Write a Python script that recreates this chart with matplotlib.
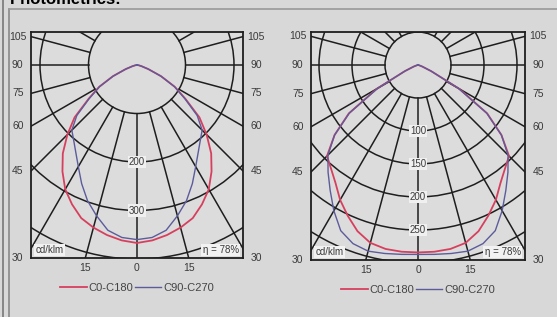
import numpy as np
import matplotlib.pyplot as plt
from matplotlib.patches import Circle
from matplotlib.lines import Line2D

plt.rcParams['font.family'] = ['Liberation Sans', 'DejaVu Sans']

# gamma angle from nadir (deg) and luminous intensity in cd/klm
gamma = np.arange(0, 95, 5)

left_c0 = [367, 363, 356, 347, 336, 317, 296, 268, 238, 203, 168, 122, 90, 55, 25, 10, 4, 1, 0]
left_c90 = [360, 357, 346, 322, 298, 270, 242, 220, 203, 190, 162, 120, 89, 54, 25, 10, 4, 1, 0]
right_c0 = [284, 284, 283, 279, 268, 252, 236, 218, 205, 195, 165, 128, 72, 22, 7, 2, 1, 0, 0]
right_c90 = [287, 288, 290, 292, 288, 277, 255, 232, 212, 193, 165, 127, 71, 22, 7, 2, 1, 0, 0]

left_rings = [100, 200, 300, 400]
left_ring_labels = [200, 300]
right_rings = [50, 100, 150, 200, 250, 300]
right_ring_labels = [100, 150, 200, 250]

side_angles = [105, 90, 75, 60, 45, 30]
bottom_angles = [-15, 0, 15]
series_names = ['C0-C180', 'C90-C270']
eta_text = '\u03b7 = 78%'
unit_text = 'cd/klm'

W, H = 557, 317
BG = '#d8d8d8'
GRID = '#1e1e1e'
RED = '#d6405e'
BLUE = '#5c5c9c'
TXT = '#3a3a3a'

fig = plt.figure(figsize=(W / 100, H / 100), dpi=100, facecolor=BG)


def polar_xy(vals):
    g = np.radians(gamma)
    v = np.asarray(vals, float)
    x = np.concatenate([-(v * np.sin(g))[::-1], v * np.sin(g)])
    y = np.concatenate([-(v * np.cos(g))[::-1], -v * np.cos(g)])
    return x, y


def make_panel(box, center, scale, c0, c90, rings, ring_labels):
    x0, y0, x1, y1 = box
    cx, cy = center
    ax = fig.add_axes([x0 / W, 1 - y1 / H, (x1 - x0) / W, (y1 - y0) / H])
    ax.set_facecolor('#dcdcdc')
    xlim = ((x0 - cx) / scale, (x1 - cx) / scale)
    ylim = (-(y1 - cy) / scale, (cy - y0) / scale)
    ax.set_xlim(xlim)
    ax.set_ylim(ylim)
    ax.set_xticks([])
    ax.set_yticks([])
    for s in ax.spines.values():
        s.set_color(GRID)
        s.set_linewidth(1.3)

    r0 = rings[0]
    for a in range(0, 360, 15):
        dx, dy = np.sin(np.radians(a)), -np.cos(np.radians(a))
        ax.plot([r0 * dx, 3000 * dx], [r0 * dy, 3000 * dy], color=GRID, lw=1.1, zorder=1)
    for r in rings:
        ax.add_patch(Circle((0, 0), r, fill=False, ec=GRID, lw=1.1, zorder=1))

    for r in ring_labels:
        ax.text(0, -r, str(r), ha='center', va='center', fontsize=7, color=TXT, zorder=4,
                bbox=dict(boxstyle='square,pad=0.12', fc='#f0f0f0', ec='none'))

    x, y = polar_xy(c0)
    l1, = ax.plot(x, y, color=RED, lw=1.3, zorder=3)
    x, y = polar_xy(c90)
    l2, = ax.plot(x, y, color=BLUE, lw=1.0, zorder=3)

    xmax = xlim[1]
    for a in side_angles:
        ar = np.radians(a)
        yy = -xmax / np.sin(ar) * np.cos(ar)
        # a ray that meets the side next to the bottom corner is labelled at the corner
        if (yy - ylim[0]) * scale < 15:
            yy = ylim[0]
        for sgn in (-1, 1):
            ax.annotate(str(a), xy=(sgn * xmax, yy), xytext=(sgn * 9.5, 0),
                        textcoords='offset points', ha='center', va='center',
                        fontsize=7.5, color=TXT, annotation_clip=False)
    for a in bottom_angles:
        ar = np.radians(a)
        xx = -ylim[0] / np.cos(ar) * np.sin(ar)
        ax.annotate(str(abs(a)), xy=(xx, ylim[0]), xytext=(0, -7.5),
                    textcoords='offset points', ha='center', va='center',
                    fontsize=7.5, color=TXT, annotation_clip=False)

    box_kw = dict(boxstyle='square,pad=0.12', fc='#f2f2f2', ec='none')
    ax.text(0.02, 0.012, unit_text, transform=ax.transAxes, ha='left', va='bottom',
            fontsize=7, color=TXT, bbox=box_kw, zorder=5)
    ax.text(0.98, 0.012, eta_text, transform=ax.transAxes, ha='right', va='bottom',
            fontsize=7, color=TXT, bbox=box_kw, zorder=5)

    ax.legend([l1, l2], series_names, loc='center', ncol=2,
              bbox_to_anchor=(0.5, -30 / (y1 - y0)), frameon=False, fontsize=8,
              handlelength=2.4, handletextpad=0.15, columnspacing=0.1,
              labelcolor='#444444')
    return ax


make_panel((31, 32, 243, 258), (137, 65), 0.485, left_c0, left_c90,
           left_rings, left_ring_labels)
make_panel((311, 32, 525, 260), (418, 65), 0.66, right_c0, right_c90,
           right_rings, right_ring_labels)

# page frame
fig.add_artist(Line2D([3 / W, 3 / W], [0, 1], transform=fig.transFigure, color='#777777', lw=1.2))
fig.add_artist(Line2D([9 / W, 9 / W], [0, 1 - 9 / H], transform=fig.transFigure, color='#888888', lw=1.2))
fig.add_artist(Line2D([9 / W, 1], [1 - 9 / H, 1 - 9 / H], transform=fig.transFigure, color='#999999', lw=1.2))
fig.text(10 / W, 1 - 4 / H, 'Photometrics:', fontsize=12, fontweight='bold', va='baseline', color='black')

fig.savefig('out.png', dpi=100, facecolor=BG)
